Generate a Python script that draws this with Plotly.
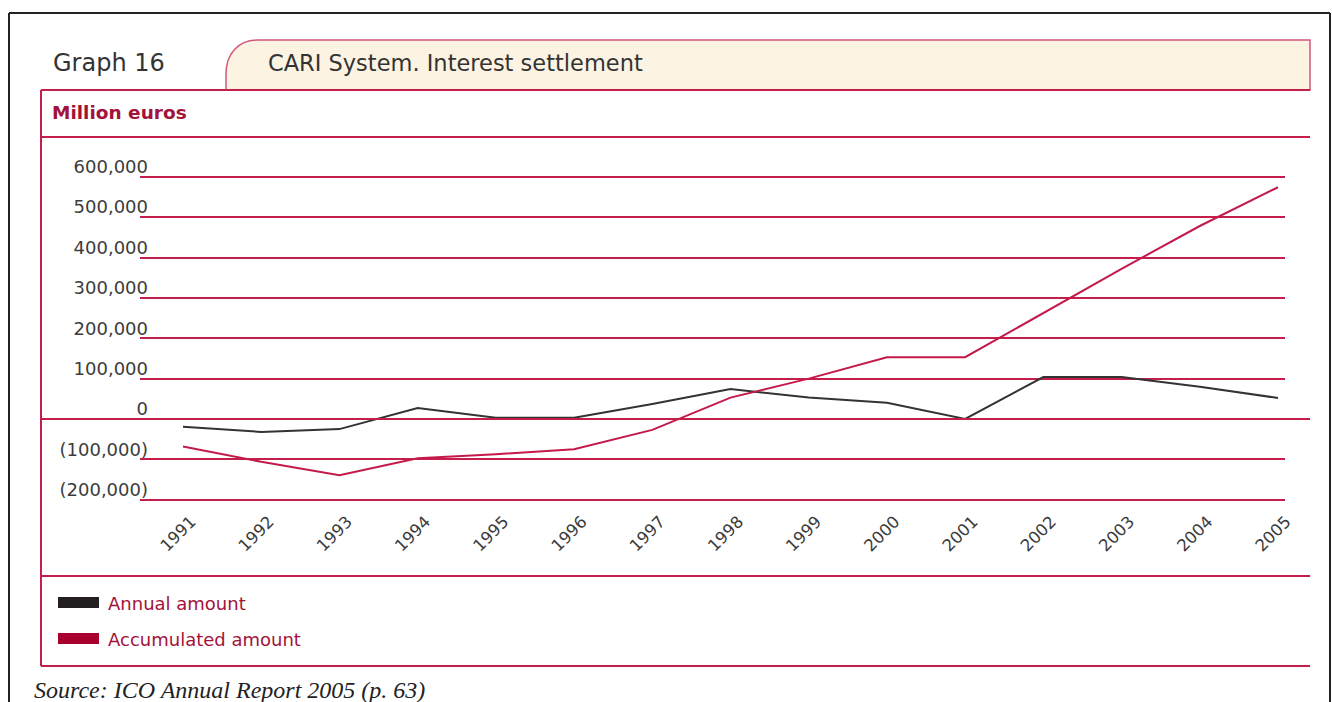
import plotly.graph_objects as go

W, H = 1332, 702

years = list(range(1991, 2006))
year_labels = [str(y) for y in years]
annual = [-19000, -32000, -25000, 27000, 3000, 3000, 37000, 74000, 53000,
          40000, 0, 104000, 104000, 80000, 52000]
accumulated = [-68000, -106000, -139000, -97000, -87000, -75000, -27000, 53000,
               100000, 153000, 153000, 262000, 372000, 478000, 574000]
y_ticks = [-200000, -100000, 0, 100000, 200000, 300000, 400000, 500000, 600000]
y_tick_labels = ["(200,000)", "(100,000)", "0", "100,000", "200,000",
                 "300,000", "400,000", "500,000", "600,000"]

title_left = "Graph 16"
title_tab = "CARI System. Interest settlement"
unit_label = "Million euros"
series_names = ["Annual amount", "Accumulated amount"]
source_text = "Source: ICO Annual Report 2005 (p. 63)"

CRIMSON = "#C41E4A"
TEXT_RED = "#A3123A"
BLACK_LINE = "#333333"
RED_LINE = "#C41A4A"
FONT = "DejaVu Sans"


def px(x):
    return x / W


def py(y):
    return 1 - y / H


# axis geometry (pixels)
plot_left, plot_right = 140, 1285
x_first_px, x_last_px = 183, 1278
ppy = (x_last_px - x_first_px) / (years[-1] - years[0])
x_range = [years[0] - (x_first_px - plot_left) / ppy,
           years[-1] + (plot_right - x_last_px) / ppy]

zero_px = 419
ppu = 40.375 / 100000
y_range = [-205000, 605000]
y_dom = [py(zero_px - y_range[0] * ppu), py(zero_px - y_range[1] * ppu)]

fig = go.Figure()
fig.add_trace(go.Scatter(x=years, y=annual, mode="lines", name=series_names[0],
                         line=dict(color=BLACK_LINE, width=2), showlegend=False))
fig.add_trace(go.Scatter(x=years, y=accumulated, mode="lines", name=series_names[1],
                         line=dict(color=RED_LINE, width=2), showlegend=False))

shapes = []
# outer black frame
frame = dict(type="line", xref="paper", yref="paper", line=dict(color="#222222", width=2))
shapes.append({**frame, "x0": px(9), "x1": px(9), "y0": py(13), "y1": py(702)})
shapes.append({**frame, "x0": px(9), "x1": px(1330), "y0": py(13), "y1": py(13)})
shapes.append({**frame, "x0": px(1330), "x1": px(1330), "y0": py(13), "y1": py(702)})

# title tab
tab_pts = (f"M {px(226)},{py(90)} L {px(226)},{py(74)} "
           f"C {px(226)},{py(54)} {px(238)},{py(40)} {px(258)},{py(40)} "
           f"L {px(1310)},{py(40)} L {px(1310)},{py(90)} Z")
shapes.append(dict(type="path", xref="paper", yref="paper", path=tab_pts,
                   fillcolor="#FCF3E3", line=dict(color="#D0587A", width=1.5)))

# box lines
box = dict(type="line", xref="paper", yref="paper", line=dict(color=CRIMSON, width=2))
for yy in (90, 137, 576, 666):
    shapes.append({**box, "x0": px(41), "x1": px(1310), "y0": py(yy), "y1": py(yy)})
shapes.append({**box, "x0": px(41), "x1": px(41), "y0": py(90), "y1": py(666)})
# zero line, extended across the box
shapes.append(dict(type="line", xref="paper", yref="y", x0=px(41), x1=px(1310),
                   y0=0, y1=0, line=dict(color=CRIMSON, width=2)))

# legend swatches
shapes.append(dict(type="rect", xref="paper", yref="paper", x0=px(58), x1=px(99),
                   y0=py(597), y1=py(608), fillcolor="#231F20", line=dict(width=0)))
shapes.append(dict(type="rect", xref="paper", yref="paper", x0=px(58), x1=px(99),
                   y0=py(633), y1=py(644), fillcolor="#A8002F", line=dict(width=0)))

annotations = [
    dict(text=title_left, x=px(51), y=py(63), xanchor="left", yanchor="middle",
         font=dict(family=FONT, size=24, color="#333333")),
    dict(text=title_tab, x=px(266), y=py(63), xanchor="left", yanchor="middle",
         font=dict(family=FONT, size=22.5, color="#333333")),
    dict(text=f"<b>{unit_label}</b>", x=px(50), y=py(112), xanchor="left", yanchor="middle",
         font=dict(family=FONT, size=18.5, color=TEXT_RED)),
    dict(text=series_names[0], x=px(106), y=py(603), xanchor="left", yanchor="middle",
         font=dict(family=FONT, size=18, color=TEXT_RED)),
    dict(text=series_names[1], x=px(106), y=py(639), xanchor="left", yanchor="middle",
         font=dict(family=FONT, size=18, color=TEXT_RED)),
    dict(text=f"<i>{source_text}</i>", x=px(32), y=py(690), xanchor="left", yanchor="middle",
         font=dict(family="Liberation Serif", size=24, color="#222222")),
]
for a in annotations:
    a.update(xref="paper", yref="paper", showarrow=False)

fig.update_layout(
    template="none",
    width=W, height=H, autosize=False,
    margin=dict(l=0, r=0, t=0, b=0, pad=0, autoexpand=False),
    paper_bgcolor="white", plot_bgcolor="white",
    showlegend=False,
    shapes=shapes,
    annotations=annotations,
    xaxis=dict(domain=[px(plot_left), px(plot_right)], range=x_range,
               tickvals=years, ticktext=year_labels, tickangle=-45,
               showgrid=False, zeroline=False, showline=False, ticks="",
               automargin=False,
               tickfont=dict(family=FONT, size=16.5, color="#3c3c3c"),
               ticklabelshift=8, ticklabelstandoff=6, fixedrange=True),
    yaxis=dict(domain=y_dom, range=y_range,
               tickvals=y_ticks, ticktext=y_tick_labels,
               showgrid=True, gridcolor=CRIMSON, gridwidth=1.5,
               zeroline=False, showline=False, ticks="",
               automargin=False,
               tickfont=dict(family=FONT, size=18, color="#3c3c3c"),
               ticklabelshift=-10, ticklabelstandoff=-9, fixedrange=True),
)

fig.write_html("out.html")
